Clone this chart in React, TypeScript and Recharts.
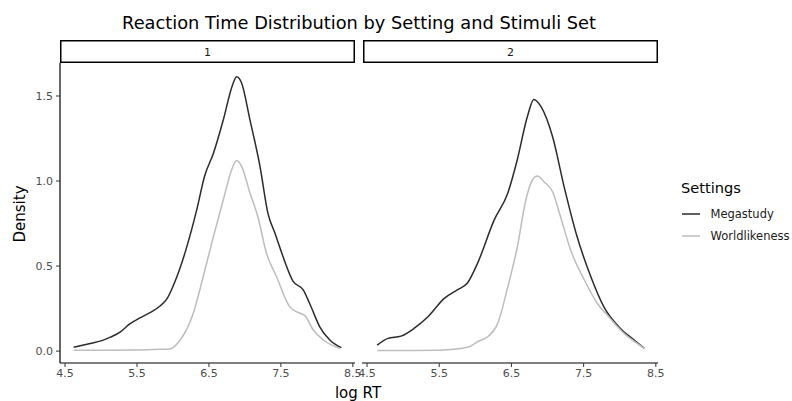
import React from 'react';
import { LineChart, Line, XAxis, YAxis } from 'recharts';

const chartTitle = 'Reaction Time Distribution by Setting and Stimuli Set';
const panelLabels = ['1', '2'];
const seriesNames = ['Megastudy', 'Worldlikeness'];
const seriesColors = ['#2b2b2b', '#bdbdbd'];
const xTicks = [4.5, 5.5, 6.5, 7.5, 8.5];
const yTicks = [0, 0.5, 1.0, 1.5];

const panel1Megastudy = [
  { logRT: 4.62, density: 0.022 }, { logRT: 4.85, density: 0.045 }, { logRT: 5.0, density: 0.06 },
  { logRT: 5.13, density: 0.082 }, { logRT: 5.26, density: 0.11 }, { logRT: 5.4, density: 0.16 },
  { logRT: 5.54, density: 0.195 }, { logRT: 5.7, density: 0.23 }, { logRT: 5.82, density: 0.265 },
  { logRT: 5.92, density: 0.31 }, { logRT: 6.0, density: 0.38 }, { logRT: 6.1, density: 0.49 },
  { logRT: 6.19, density: 0.61 }, { logRT: 6.33, density: 0.83 }, { logRT: 6.44, density: 1.03 },
  { logRT: 6.56, density: 1.16 }, { logRT: 6.7, density: 1.36 }, { logRT: 6.82, density: 1.555 },
  { logRT: 6.885, density: 1.613 }, { logRT: 6.955, density: 1.575 }, { logRT: 7.07, density: 1.36 },
  { logRT: 7.21, density: 1.085 }, { logRT: 7.32, density: 0.81 }, { logRT: 7.42, density: 0.69 },
  { logRT: 7.53, density: 0.555 }, { logRT: 7.67, density: 0.41 }, { logRT: 7.81, density: 0.36 },
  { logRT: 7.9, density: 0.28 }, { logRT: 8.04, density: 0.143 }, { logRT: 8.18, density: 0.065 },
  { logRT: 8.34, density: 0.02 },
];

const panel1Worldlikeness = [
  { logRT: 4.62, density: 0.005 }, { logRT: 5.0, density: 0.005 }, { logRT: 5.5, density: 0.006 },
  { logRT: 5.73, density: 0.01 }, { logRT: 5.96, density: 0.013 }, { logRT: 6.1, density: 0.065 },
  { logRT: 6.28, density: 0.22 }, { logRT: 6.42, density: 0.437 }, { logRT: 6.56, density: 0.67 },
  { logRT: 6.7, density: 0.89 }, { logRT: 6.815, density: 1.065 }, { logRT: 6.885, density: 1.12 },
  { logRT: 6.955, density: 1.085 }, { logRT: 7.07, density: 0.93 }, { logRT: 7.18, density: 0.79 },
  { logRT: 7.3, density: 0.575 }, { logRT: 7.44, density: 0.437 }, { logRT: 7.625, density: 0.26 },
  { logRT: 7.72, density: 0.23 }, { logRT: 7.83, density: 0.21 }, { logRT: 7.95, density: 0.124 },
  { logRT: 8.09, density: 0.065 }, { logRT: 8.32, density: 0.015 },
];

const panel2Megastudy = [
  { logRT: 4.64, density: 0.035 }, { logRT: 4.79, density: 0.075 }, { logRT: 4.97, density: 0.088 },
  { logRT: 5.15, density: 0.133 }, { logRT: 5.34, density: 0.2 }, { logRT: 5.57, density: 0.31 },
  { logRT: 5.75, density: 0.36 }, { logRT: 5.89, density: 0.4 }, { logRT: 6.03, density: 0.516 },
  { logRT: 6.26, density: 0.77 }, { logRT: 6.45, density: 0.93 }, { logRT: 6.58, density: 1.124 },
  { logRT: 6.72, density: 1.378 }, { logRT: 6.81, density: 1.48 }, { logRT: 6.91, density: 1.437 },
  { logRT: 7.07, density: 1.26 }, { logRT: 7.23, density: 0.966 }, { logRT: 7.41, density: 0.672 },
  { logRT: 7.6, density: 0.437 }, { logRT: 7.78, density: 0.26 }, { logRT: 8.01, density: 0.133 },
  { logRT: 8.2, density: 0.065 }, { logRT: 8.34, density: 0.016 },
];

const panel2Worldlikeness = [
  { logRT: 4.64, density: 0.003 }, { logRT: 5.0, density: 0.003 }, { logRT: 5.5, density: 0.005 },
  { logRT: 5.89, density: 0.022 }, { logRT: 6.03, density: 0.055 }, { logRT: 6.17, density: 0.084 },
  { logRT: 6.31, density: 0.163 }, { logRT: 6.45, density: 0.378 }, { logRT: 6.58, density: 0.61 },
  { logRT: 6.7, density: 0.89 }, { logRT: 6.79, density: 1.006 }, { logRT: 6.86, density: 1.03 },
  { logRT: 6.95, density: 0.996 }, { logRT: 7.07, density: 0.937 }, { logRT: 7.18, density: 0.79 },
  { logRT: 7.32, density: 0.594 }, { logRT: 7.51, density: 0.418 }, { logRT: 7.69, density: 0.28 },
  { logRT: 7.85, density: 0.2 }, { logRT: 8.06, density: 0.104 }, { logRT: 8.24, density: 0.045 },
  { logRT: 8.34, density: 0.016 },
];

const panelSeries = [
  [panel1Megastudy, panel1Worldlikeness],
  [panel2Megastudy, panel2Worldlikeness],
];

const FONT = '"DejaVu Sans", sans-serif';
const X_DOMAIN: [number, number] = [4.43, 8.53];
const Y_DOMAIN: [number, number] = [-0.07, 1.694];
const PAD = 14;

const tickStyle = { fontSize: 11, fill: '#4d4d4d', fontFamily: FONT };

function Panel({ index }: { index: number }) {
  const showY = index === 0;
  const leftPad = index === 0 ? 0 : PAD;
  const left = index === 0 ? 0 : 362 - PAD;
  const width = (index === 0 ? 355 : 296) + PAD + leftPad;
  return (
    <div style={{ position: 'absolute', left, top: 63, width, height: 338 }}>
      <LineChart width={width} height={338} margin={{ top: 0, right: PAD, bottom: 0, left: leftPad }}>
        <XAxis
          type="number"
          dataKey="logRT"
          domain={X_DOMAIN}
          ticks={xTicks}
          tickFormatter={(v: number) => v.toFixed(1)}
          tick={tickStyle}
          tickSize={4}
          tickMargin={2}
          height={38}
          stroke="#000"
          tickLine={{ stroke: '#333' }}
          axisLine={{ stroke: '#000', strokeWidth: 1.2 }}
          allowDataOverflow
          interval={0}
        />
        <YAxis
          type="number"
          dataKey="density"
          domain={Y_DOMAIN}
          ticks={yTicks}
          tickFormatter={(v: number) => v.toFixed(1)}
          tick={tickStyle}
          tickSize={4}
          tickMargin={3}
          width={showY ? 60 : 0}
          hide={!showY}
          tickLine={{ stroke: '#333' }}
          axisLine={{ stroke: '#000', strokeWidth: 1.2 }}
          allowDataOverflow
          interval={0}
        />
        {panelSeries[index].map((d, i) => (
          <Line
            key={seriesNames[i]}
            data={d}
            dataKey="density"
            name={seriesNames[i]}
            type="monotone"
            stroke={seriesColors[i]}
            strokeWidth={1.5}
            dot={false}
            activeDot={false}
            isAnimationActive={false}
          />
        ))}
      </LineChart>
    </div>
  );
}

export default function App() {
  const strips = [
    { x: 60, w: 295 },
    { x: 363, w: 295 },
  ];
  return (
    <div style={{ position: 'absolute', left: 0, top: 0, width: 792, height: 401, background: '#fff', fontFamily: FONT }}>
      <Panel index={0} />
      <Panel index={1} />
      <svg width={792} height={401} style={{ position: 'absolute', left: 0, top: 0, pointerEvents: 'none' }}>
        <text x={359} y={29} textAnchor="middle" fontSize={17.8} fontFamily={FONT} fill="#000">{chartTitle}</text>
        {strips.map((s, i) => (
          <g key={panelLabels[i]}>
            <rect x={s.x + 0.75} y={40.75} width={s.w - 1.5} height={21.5} fill="#fff" stroke="#000" strokeWidth={1.5} />
            <text x={s.x + s.w / 2} y={55.5} textAnchor="middle" fontSize={11} fontFamily={FONT} fill="#1a1a1a">{panelLabels[i]}</text>
          </g>
        ))}
        <text x={358} y={398} textAnchor="middle" fontSize={15} fontFamily={FONT} fill="#000">log RT</text>
        <text x={25} y={214} textAnchor="middle" fontSize={15} fontFamily={FONT} fill="#000" transform="rotate(-90 25 214)">Density</text>
        <text x={681} y={193} fontSize={14.6} fontFamily={FONT} fill="#000">Settings</text>
        {seriesNames.map((n, i) => (
          <g key={n}>
            <line x1={682} x2={700} y1={214 + i * 22} y2={214 + i * 22} stroke={seriesColors[i]} strokeWidth={1.5} />
            <text x={710.5} y={218 + i * 22} fontSize={11.5} fontFamily={FONT} fill="#1a1a1a">{n}</text>
          </g>
        ))}
      </svg>
    </div>
  );
}
